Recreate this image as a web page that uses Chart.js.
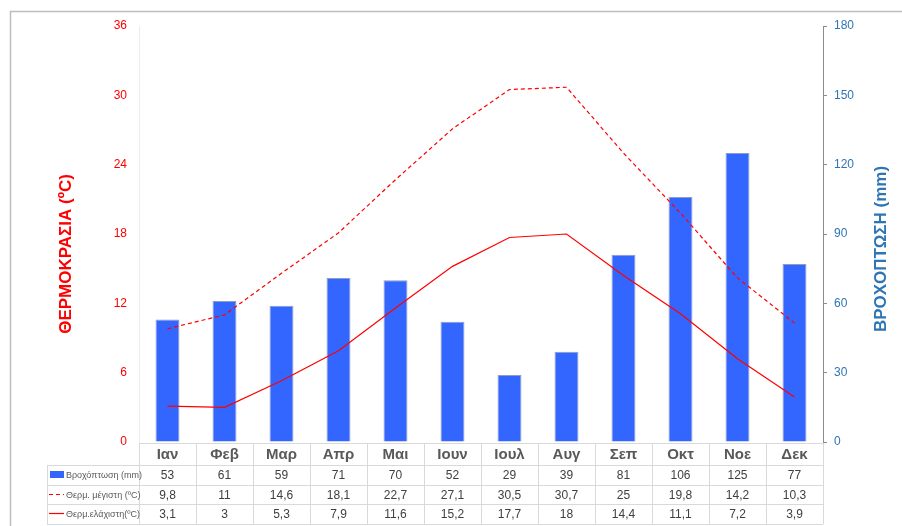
<!DOCTYPE html>
<html>
<head>
<meta charset="utf-8">
<script src="https://cdn.jsdelivr.net/npm/chart.js@4.4.1/dist/chart.umd.min.js"></script>
<style>
  html, body { margin: 0; padding: 0; background: #ffffff; }
  #wrap { width: 902px; height: 526px; }
</style>
</head>
<body>
<div id="wrap"><canvas id="c" width="902" height="526"></canvas></div>
<script>
// Monthly climate data
const months = ['Ιαν', 'Φεβ', 'Μαρ', 'Απρ', 'Μαι', 'Ιουν', 'Ιουλ', 'Αυγ', 'Σεπ', 'Οκτ', 'Νοε', 'Δεκ'];
const rainfall = [53, 61, 59, 71, 70, 52, 29, 39, 81, 106, 125, 77];
const tempMax = [9.8, 11, 14.6, 18.1, 22.7, 27.1, 30.5, 30.7, 25, 19.8, 14.2, 10.3];
const tempMin = [3.1, 3, 5.3, 7.9, 11.6, 15.2, 17.7, 18, 14.4, 11.1, 7.2, 3.9];
const tempTicks = [0, 6, 12, 18, 24, 30, 36];
const rainTicks = [0, 30, 60, 90, 120, 150, 180];

const rowLabels = ['Βροχόπτωση (mm)', 'Θερμ. μέγιστη (ºC)', 'Θερμ.ελάχιστη(ºC)'];
const leftTitle = 'ΘΕΡΜΟΚΡΑΣΙΑ (ºC)';
const rightTitle = 'ΒΡΟΧΟΠΤΩΣΗ (mm)';

const RED = '#ff0000';
const BLUE_TXT = '#2e75b6';
const BAR = '#3366ff';
const GRID = '#d9d9d9';
const FONT = '"Liberation Sans", Arial, sans-serif';

const fmt = v => String(v).replace('.', ',');

// Frame, axis titles and the data table under the plot
const decor = {
  id: 'decor',
  beforeDraw(chart) {
    const ctx = chart.ctx;
    ctx.save();
    ctx.strokeStyle = '#bdbdbd';
    ctx.lineWidth = 1.5;
    ctx.beginPath();
    ctx.moveTo(10.5, 526);
    ctx.lineTo(10.5, 11.5);
    ctx.lineTo(902, 11.5);
    ctx.stroke();
    ctx.restore();
  },
  afterDraw(chart) {
    const ctx = chart.ctx;
    const x = chart.scales.x;
    const area = chart.chartArea;
    const half = (x.getPixelForValue(1) - x.getPixelForValue(0)) / 2;
    const colL = x.getPixelForValue(0) - half;
    const colR = x.getPixelForValue(months.length - 1) + half;
    const legL = 47;
    const top = area.bottom + 1;
    const rows = [top, 465, 485, 504, 524];

    ctx.save();
    // axis titles
    ctx.textAlign = 'center';
    ctx.textBaseline = 'middle';
    ctx.font = 'bold 17px ' + FONT;
    ctx.fillStyle = RED;
    ctx.translate(66, (area.top + area.bottom) / 2 + 20);
    ctx.rotate(-Math.PI / 2);
    ctx.fillText(leftTitle, 0, 0);
    ctx.setTransform(1, 0, 0, 1, 0, 0);
    ctx.fillStyle = BLUE_TXT;
    ctx.translate(881, (area.top + area.bottom) / 2 + 15);
    ctx.rotate(-Math.PI / 2);
    ctx.fillText(rightTitle, 0, 0);
    ctx.setTransform(1, 0, 0, 1, 0, 0);

    // table grid
    ctx.strokeStyle = GRID;
    ctx.lineWidth = 1;
    ctx.beginPath();
    ctx.moveTo(colL, rows[0] + 0.5); ctx.lineTo(colR, rows[0] + 0.5);
    for (let r = 1; r < rows.length; r++) {
      ctx.moveTo(legL, rows[r] + 0.5); ctx.lineTo(colR, rows[r] + 0.5);
    }
    for (let i = 0; i <= months.length; i++) {
      const px = Math.round(colL + i * 2 * half) + 0.5;
      ctx.moveTo(px, rows[0]); ctx.lineTo(px, rows[4]);
    }
    ctx.moveTo(legL + 0.5, rows[1]); ctx.lineTo(legL + 0.5, rows[4]);
    ctx.stroke();

    // month header
    ctx.fillStyle = '#595959';
    ctx.font = 'bold 15px ' + FONT;
    months.forEach((m, i) => ctx.fillText(m, x.getPixelForValue(i), (rows[0] + rows[1]) / 2 + 1));

    // value rows
    const series = [rainfall, tempMax, tempMin];
    ctx.fillStyle = '#404040';
    ctx.font = '12px ' + FONT;
    series.forEach((s, r) => {
      const cy = (rows[r + 1] + rows[r + 2]) / 2 + 1;
      s.forEach((v, i) => ctx.fillText(fmt(v), x.getPixelForValue(i), cy));
    });

    // legend keys
    ctx.textAlign = 'left';
    ctx.font = '9px ' + FONT;
    ctx.fillStyle = '#595959';
    rowLabels.forEach((t, r) => {
      const cy = (rows[r + 1] + rows[r + 2]) / 2 + 1;
      ctx.fillText(t, 66, cy);
    });
    ctx.fillStyle = BAR;
    ctx.fillRect(50, 471, 14, 7);
    ctx.strokeStyle = RED;
    ctx.lineWidth = 1.2;
    ctx.setLineDash([4, 3]);
    ctx.beginPath(); ctx.moveTo(49, 494.5); ctx.lineTo(64, 494.5); ctx.stroke();
    ctx.setLineDash([]);
    ctx.beginPath(); ctx.moveTo(49, 513.5); ctx.lineTo(64, 513.5); ctx.stroke();
    ctx.restore();
  }
};

new Chart(document.getElementById('c'), {
  data: {
    labels: months,
    datasets: [
      {
        type: 'line', label: rowLabels[1], data: tempMax, yAxisID: 'yT',
        borderColor: RED, borderWidth: 1.2, borderDash: [4, 3],
        pointRadius: 0, tension: 0, order: 1
      },
      {
        type: 'line', label: rowLabels[2], data: tempMin, yAxisID: 'yT',
        borderColor: RED, borderWidth: 1.2,
        pointRadius: 0, tension: 0, order: 2
      },
      {
        type: 'bar', label: rowLabels[0], data: rainfall, yAxisID: 'yR',
        backgroundColor: BAR, borderColor: '#8f9bc0', borderWidth: 1,
        barPercentage: 0.42, categoryPercentage: 1, order: 3
      }
    ]
  },
  options: {
    responsive: false,
    animation: false,
    devicePixelRatio: 1,
    layout: { padding: { left: 0, right: 0, top: 26, bottom: 84 } },
    plugins: { legend: { display: false }, tooltip: { enabled: false } },
    scales: {
      x: { display: false, offset: true },
      yT: {
        position: 'left', min: 0, max: 36,
        afterFit: s => { s.width = 139; },
        afterBuildTicks: s => { s.ticks = tempTicks.map(v => ({ value: v })); },
        grid: { display: true, drawOnChartArea: false, drawTicks: false },
        border: { display: true, color: '#ececec' },
        ticks: { color: RED, padding: 12, font: { family: FONT, size: 12 } }
      },
      yR: {
        position: 'right', min: 0, max: 180,
        afterFit: s => { s.width = 79; },
        afterBuildTicks: s => { s.ticks = rainTicks.map(v => ({ value: v })); },
        grid: { drawOnChartArea: false, drawTicks: true, tickLength: 4, color: '#8c8c8c' },
        border: { display: true, color: '#8c8c8c' },
        ticks: { color: BLUE_TXT, padding: 7, font: { family: FONT, size: 12 } }
      }
    }
  },
  plugins: [decor]
});
</script>
</body>
</html>
